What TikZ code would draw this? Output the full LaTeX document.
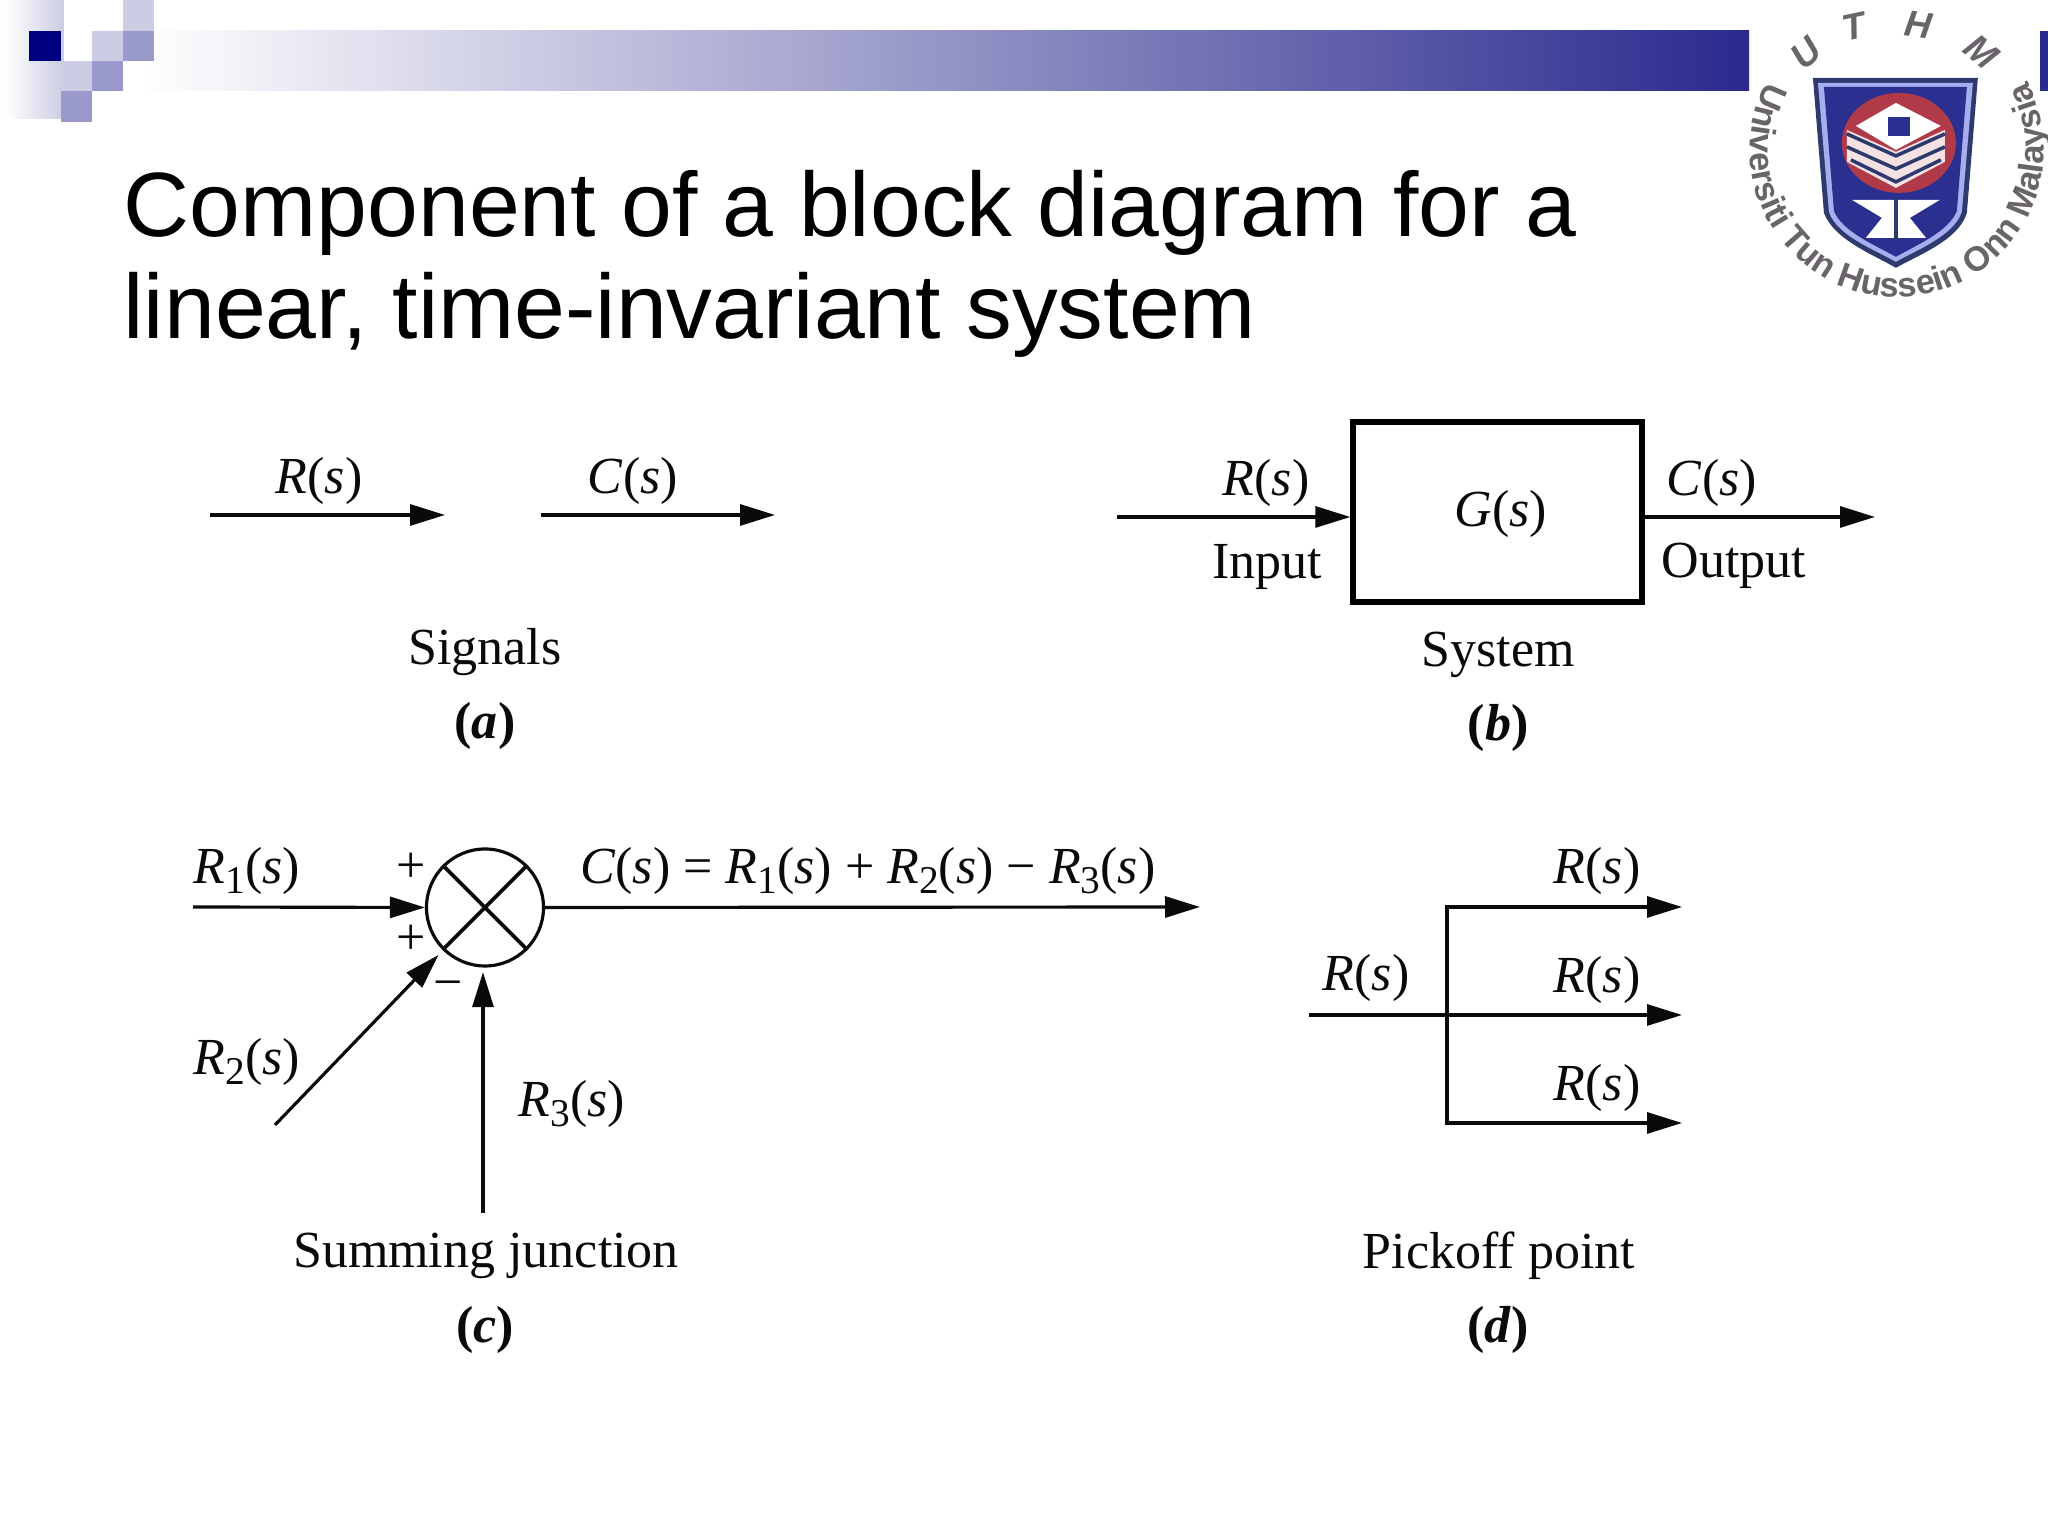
\documentclass[tikz,border=0pt]{standalone}
\usepackage{fontspec}
\setmainfont{Liberation Serif}
\newfontfamily\headfont{Liberation Sans}
\usetikzlibrary{arrows.meta,calc,decorations.text}
\definecolor{BarNavy}{RGB}{42,42,142}
\definecolor{DeepNavy}{RGB}{0,0,128}
\definecolor{SoftSquare}{RGB}{204,204,228}
\definecolor{MidSquare}{RGB}{153,153,204}
\definecolor{InkBlack}{RGB}{10,10,10}
\definecolor{LogoGrey}{RGB}{105,100,105}
\definecolor{LogoRed}{RGB}{176,58,72}
\definecolor{LogoBlue}{RGB}{43,47,143}
\definecolor{LogoEdge}{RGB}{46,58,110}
\definecolor{LogoLight}{RGB}{167,174,239}
\newcommand{\sigof}[1]{\textit{#1}(\textit{s})}
\newcommand{\sigsub}[2]{\textit{#1}\raisebox{-.4ex}{\fontsize{11.2}{12}\selectfont #2}(\textit{s})}
\newcommand{\tagof}[1]{\textbf{(\textit{#1})}}
\tikzset{
  >=Latex,
  sigline/.style={-{Triangle[length=3.5mm,width=2.1mm]},line width=.9pt,draw=InkBlack},
  plainline/.style={line width=1.05pt,draw=InkBlack},
  sigtext/.style={font=\fontsize{14.8}{17}\selectfont,text=InkBlack,inner sep=0pt},
  headtext/.style={font=\headfont\fontsize{26}{29}\selectfont,text=black,align=left,inner sep=0pt},
  sysbox/.style={draw=black,line width=1.5pt,minimum width=2.89cm,minimum height=1.80cm},
  sumnode/.style={circle,draw=InkBlack,line width=.9pt,minimum size=1.17cm,inner sep=0pt},
  ringtext/.style={font=\headfont\bfseries\itshape\fontsize{10.5}{10.5}\selectfont,text=LogoGrey,inner sep=0pt}
}
\begin{document}
\begin{tikzpicture}[x=1cm,y=1cm]
  \useasboundingbox (0,0) rectangle (20.48,15.36);
  \fill[white] (0,0) rectangle (20.48,15.36);
  % slide header
  \shade[left color=white,right color=SoftSquare] (.05,15.36) rectangle (.64,14.17);
  \fill[white] (.64,15.36) rectangle (1.23,14.75);
  \shade[left color=white,right color=BarNavy] (1.40,15.05) rectangle (17.49,14.45);
  \fill[DeepNavy] (.29,15.05) rectangle (.61,14.75);
  \fill[SoftSquare] (1.23,15.36) rectangle (1.54,15.05);
  \fill[SoftSquare] (.92,15.05) rectangle (1.23,14.75);
  \fill[MidSquare] (1.23,15.05) rectangle (1.54,14.75);
  \fill[SoftSquare] (.61,14.75) rectangle (.92,14.45);
  \fill[MidSquare] (.92,14.75) rectangle (1.23,14.45);
  \fill[MidSquare] (.61,14.45) rectangle (.92,14.14);
  \fill[BarNavy] (20.40,15.05) rectangle (20.48,14.45);
  \node[headtext,anchor=north west] (title) at (1.23,13.66) {Component of a block diagram for a\\linear, time-invariant system};
  % logo
  \begin{scope}[x=.01cm,y=-.01cm,shift={(0cm,15.36cm)}]
    \fill[LogoEdge] (1814,78) -- (1979,78) -- (1968,213) .. controls (1960,240) and (1920,255) .. (1897,268) .. controls (1875,255) and (1835,240) .. (1825,213) -- cycle;
    \fill[LogoLight] (1819,83) -- (1974,83) -- (1963,212) .. controls (1955,236) and (1918,250) .. (1897,262) .. controls (1876,250) and (1838,236) .. (1830,212) -- cycle;
    \fill[LogoBlue] (1825,87) -- (1968,87) -- (1958,211) .. controls (1950,232) and (1916,246) .. (1897,257) .. controls (1878,246) and (1843,232) .. (1835,211) -- cycle;
    \fill[LogoRed] (1900,143) ellipse [x radius=.57cm,y radius=.50cm];
    \fill[white] (1897,103) -- (1942,126) -- (1897,150) -- (1857,126) -- cycle;
    \fill[LogoBlue] (1889,117) rectangle (1911,136);
    \fill[white!85!LogoRed] (1848,130) -- (1897,152) -- (1946,130) -- (1946,162) -- (1897,188) -- (1848,162) -- cycle;
    \draw[LogoEdge,line width=1pt] (1848,134) -- (1897,156) -- (1946,134);
    \draw[LogoEdge,line width=1pt] (1848,147) -- (1897,169) -- (1946,147);
    \draw[LogoEdge,line width=1pt] (1852,160) -- (1897,182) -- (1942,160);
    \fill[white] (1853,200) -- (1897,200) -- (1897,238) -- (1867,238) -- (1883,218) -- cycle;
    \fill[white] (1941,200) -- (1897,200) -- (1897,238) -- (1927,238) -- (1911,218) -- cycle;
    \draw[LogoEdge,line width=1pt] (1897,198) -- (1897,240);
    \node[ringtext,rotate=42] (logoU) at (1807,53) {U};
    \node[ringtext,rotate=12] (logoT) at (1855,27) {T};
    \node[ringtext,rotate=-8] (logoH) at (1920,25) {H};
    \node[ringtext,rotate=-40] (logoM) at (1983,52) {M};
  \end{scope}
  \path[decorate,decoration={text along path,text align=center,text color=LogoGrey,
    text={|\headfont\bfseries\fontsize{9.8}{10}\selectfont|Universiti Tun Hussein Onn Malaysia}}]
    (18.97,13.86) ++(130:1.47) arc (130:410:1.47);
  % (a) signals
  \coordinate (aRin) at (2.10,10.21);
  \coordinate (aRout) at (4.45,10.21);
  \coordinate (aCin) at (5.41,10.21);
  \coordinate (aCout) at (7.75,10.21);
  \draw[sigline] (aRin) -- (aRout);
  \draw[sigline] (aCin) -- (aCout);
  \node[sigtext] (aR) at (3.19,10.55) {\sigof{R}};
  \node[sigtext] (aC) at (6.33,10.55) {\sigof{C}};
  \node[sigtext] (aName) at (4.85,8.84) {Signals};
  \node[sigtext] (aTag) at (4.85,8.10) {\tagof{a}};
  % (b) system
  \node[sysbox] (sys) at (14.975,10.24) {};
  \node[sigtext] (sysG) at (15.01,10.22) {\sigof{G}};
  \coordinate (bIn) at (11.17,10.19);
  \coordinate (bOut) at (18.75,10.19);
  \draw[sigline] (bIn) -- (sys.west |- bIn);
  \draw[sigline] (sys.east |- bOut) -- (bOut);
  \node[sigtext] (bR) at (12.66,10.53) {\sigof{R}};
  \node[sigtext] (bInput) at (12.67,9.69) {Input};
  \node[sigtext] (bC) at (17.12,10.53) {\sigof{C}};
  \node[sigtext] (bOutput) at (17.34,9.70) {Output};
  \node[sigtext] (bName) at (14.98,8.81) {System};
  \node[sigtext] (bTag) at (14.98,8.08) {\tagof{b}};
  % (c) summing junction
  \node[sumnode] (sum) at (4.85,6.285) {};
  \draw[plainline] (sum.45) -- (sum.225);
  \draw[plainline] (sum.135) -- (sum.315);
  \coordinate (cOne) at (1.93,6.29);
  \coordinate (cTwo) at (2.75,4.11);
  \coordinate (cThree) at (4.83,3.23);
  \coordinate (cOut) at (12.00,6.29);
  \draw[sigline] (cOne) -- (sum.west);
  \draw[sigline] (cTwo) -- ($(sum.225)+(-.04,-.05)$);
  \draw[sigline,shorten >=1.3pt] (cThree) -- (cThree |- sum.south);
  \draw[sigline] (sum.east) -- (cOut);
  \node[sigtext] (cPlusA) at (4.11,6.68) {+};
  \node[sigtext] (cPlusB) at (4.11,5.96) {+};
  \node[sigtext] (cMinus) at (4.48,5.46) {−};
  \node[sigtext] (cRa) at (2.47,6.65) {\sigsub{R}{1}};
  \node[sigtext] (cRb) at (2.47,4.74) {\sigsub{R}{2}};
  \node[sigtext] (cRc) at (5.72,4.32) {\sigsub{R}{3}};
  \node[sigtext] (cEq) at (8.68,6.65) {\sigof{C} = \sigsub{R}{1} + \sigsub{R}{2} − \sigsub{R}{3}};
  \node[sigtext] (cName) at (4.86,2.80) {Summing junction};
  \node[sigtext] (cTag) at (4.85,2.06) {\tagof{c}};
  % (d) pickoff point
  \coordinate (dIn) at (13.09,5.21);
  \coordinate (dPick) at (14.47,5.21);
  \coordinate (dUp) at (14.47,6.29);
  \coordinate (dDown) at (14.47,4.13);
  \coordinate (dOutA) at (16.82,6.29);
  \coordinate (dOutB) at (16.82,5.21);
  \coordinate (dOutC) at (16.82,4.13);
  \draw[sigline] (dIn) -- (dOutB);
  \draw[sigline] (dPick) -- (dUp) -- (dOutA);
  \draw[sigline] (dPick) -- (dDown) -- (dOutC);
  \node[sigtext] (dRin) at (13.66,5.58) {\sigof{R}};
  \node[sigtext] (dRa) at (15.97,6.65) {\sigof{R}};
  \node[sigtext] (dRb) at (15.97,5.56) {\sigof{R}};
  \node[sigtext] (dRc) at (15.97,4.48) {\sigof{R}};
  \node[sigtext] (dName) at (14.99,2.80) {Pickoff point};
  \node[sigtext] (dTag) at (14.98,2.06) {\tagof{d}};
\end{tikzpicture}
\end{document}
